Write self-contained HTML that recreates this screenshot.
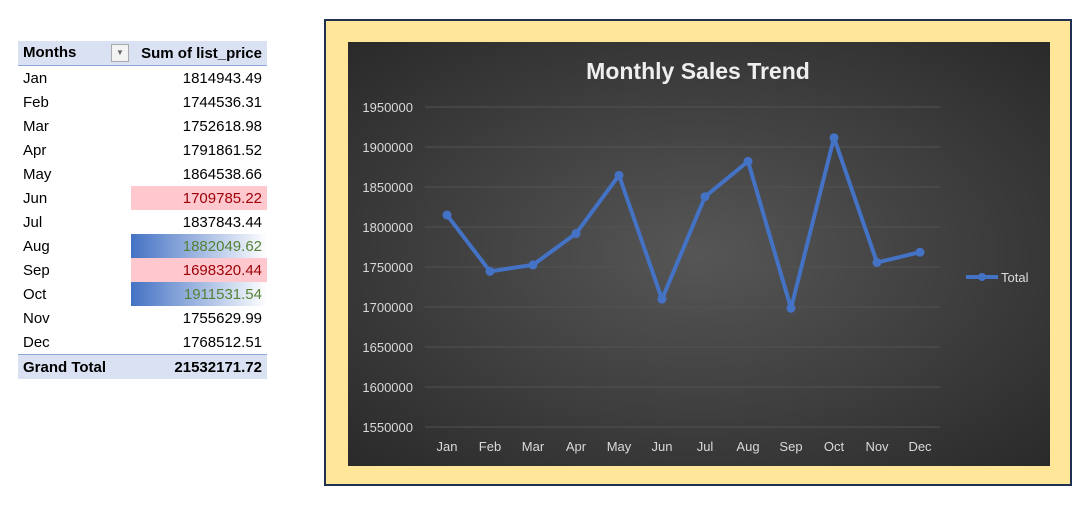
<!DOCTYPE html>
<html><head><meta charset="utf-8"><style>
body{margin:0;width:1072px;height:510px;background:#fff;font-family:"Liberation Sans",sans-serif;overflow:hidden;position:relative}
table{position:absolute;left:18px;top:41px;border-collapse:collapse;font-size:15px;width:249px;table-layout:fixed}
td{height:24px;padding:0 5px;color:#000;white-space:nowrap}
td.v{text-align:right}
tr.h td{background:#D9E1F2;font-weight:bold;border-bottom:1px solid #8EA9DB}
tr.g td{background:#D9E1F2;font-weight:bold;border-top:1px solid #8EA9DB}
.red{background:#FFC7CE;color:#9C0006!important}
.blue{background:linear-gradient(to right,#4472C4,#fff);color:#548235!important}
</style></head><body>
<table>
<colgroup><col style="width:113px"><col style="width:136px"></colgroup>
<tr class="h"><td style="padding-right:2px">Months <span style="float:right;display:inline-block;width:16px;height:16px;border:1px solid #aaa;background:#f3f3f3;font-size:8px;text-align:center;line-height:16px;color:#666;font-weight:normal">▼</span></td><td class="v">Sum of list_price</td></tr>
<tr><td>Jan</td><td class="v">1814943.49</td></tr>
<tr><td>Feb</td><td class="v">1744536.31</td></tr>
<tr><td>Mar</td><td class="v">1752618.98</td></tr>
<tr><td>Apr</td><td class="v">1791861.52</td></tr>
<tr><td>May</td><td class="v">1864538.66</td></tr>
<tr><td>Jun</td><td class="v red">1709785.22</td></tr>
<tr><td>Jul</td><td class="v">1837843.44</td></tr>
<tr><td>Aug</td><td class="v blue">1882049.62</td></tr>
<tr><td>Sep</td><td class="v red">1698320.44</td></tr>
<tr><td>Oct</td><td class="v blue">1911531.54</td></tr>
<tr><td>Nov</td><td class="v">1755629.99</td></tr>
<tr><td>Dec</td><td class="v">1768512.51</td></tr>
<tr class="g"><td>Grand Total</td><td class="v">21532171.72</td></tr>
</table>
<div style="position:absolute;left:324px;top:19px;width:744px;height:463px;border:2px solid #1F3050;background:#FFE699"></div>
<svg width="1072" height="510" style="position:absolute;left:0;top:0">
<defs><radialGradient id="bg" cx="50%" cy="50%" r="70%"><stop offset="0" stop-color="#565656"/><stop offset="1" stop-color="#2a2a2a"/></radialGradient></defs>
<rect x="348" y="42" width="702" height="424" fill="url(#bg)"/>
<text x="698" y="79" text-anchor="middle" font-size="23" font-weight="bold" fill="#eee">Monthly Sales Trend</text>
<g id="grid"></g><g id="xl"></g><g id="line"></g>
<line x1="966" y1="277" x2="998" y2="277" stroke="#4472C4" stroke-width="4"/>
<circle cx="982" cy="277" r="4" fill="#4472C4"/>
<text x="1001" y="282" font-size="13" fill="#ddd">Total</text>
</svg>
<script>
const months=["Jan","Feb","Mar","Apr","May","Jun","Jul","Aug","Sep","Oct","Nov","Dec"];
const values=[1814943.49,1744536.31,1752618.98,1791861.52,1864538.66,1709785.22,1837843.44,1882049.62,1698320.44,1911531.54,1755629.99,1768512.51];
const ticks=[1550000,1600000,1650000,1700000,1750000,1800000,1850000,1900000,1950000];
const NS="http://www.w3.org/2000/svg";
const y=v=>427-(v-1550000)/400000*320;
const x=i=>447+i*43;
function mk(t,a,p){const e=document.createElementNS(NS,t);for(const k in a)e.setAttribute(k,a[k]);p.appendChild(e);return e;}
const g=document.getElementById('grid');
ticks.forEach(t=>{
 const l=mk('line',{x1:425,x2:940,y1:y(t),y2:y(t),stroke:'#525252','stroke-width':1},g);
 
 
 const tx=mk('text',{x:413,y:y(t)+5,'text-anchor':'end','font-size':13,fill:'#d9d9d9'},g);
 tx.textContent=t;
 
 
});
const xl=document.getElementById('xl');
months.forEach((m,i)=>{
 const tx=mk('text',{x:x(i),y:451,'text-anchor':'middle','font-size':13,fill:'#d9d9d9'},xl);
 tx.textContent=m;
 
 
});
const lg=document.getElementById('line');
const pl=mk('polyline',{points:values.map((v,i)=>x(i)+','+y(v)).join(' '),fill:'none',stroke:'#4472C4','stroke-width':4,'stroke-linejoin':'round'},lg);


values.forEach((v,i)=>{
 const c=mk('circle',{cx:x(i),cy:y(v),r:4.5,fill:'#4472C4'},lg);
 
 
});
</script>
</body></html>
